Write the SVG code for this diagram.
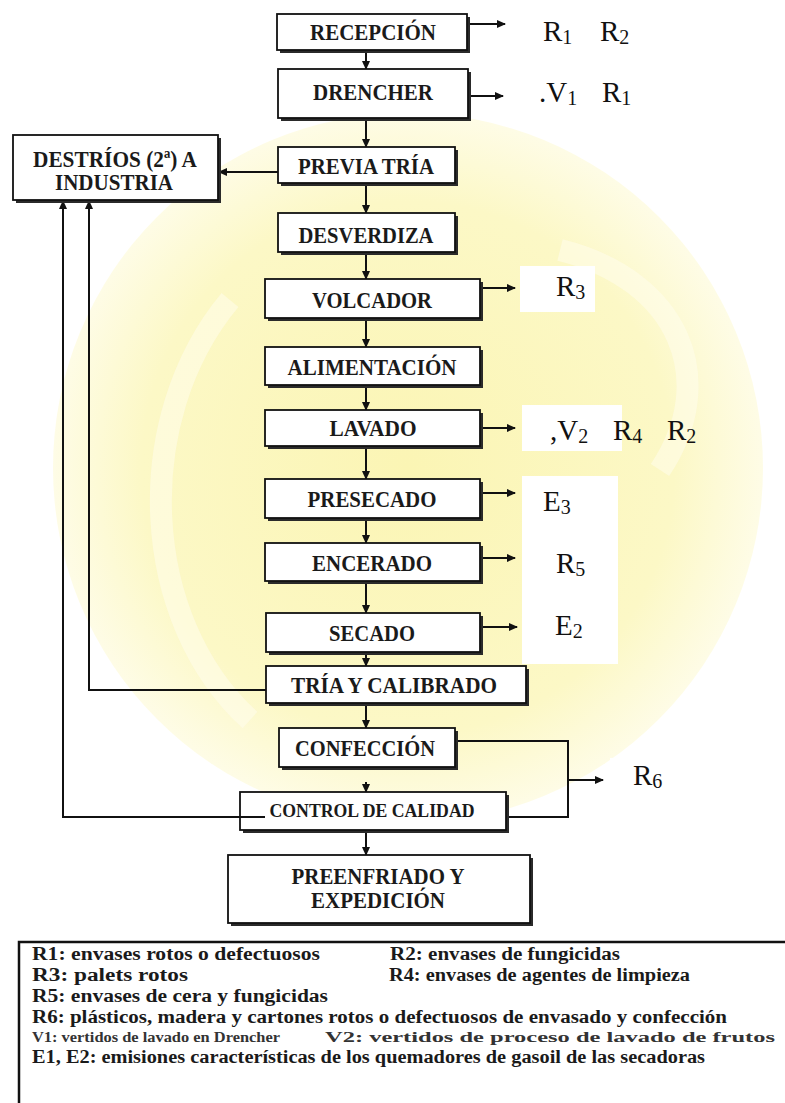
<svg xmlns="http://www.w3.org/2000/svg" width="785" height="1103" viewBox="0 0 785 1103">
<defs>
<radialGradient id="wm" cx="0.5" cy="0.5" r="0.5">
<stop offset="0" stop-color="#fbf5b4"/>
<stop offset="0.75" stop-color="#fcf8c6"/>
<stop offset="1" stop-color="#fefce6"/>
</radialGradient>
<marker id="ah" markerWidth="9" markerHeight="8" refX="8" refY="4" orient="auto" markerUnits="userSpaceOnUse">
<path d="M0,0 L9,4 L0,8 z" fill="#111"/>
</marker>
<style>
.sh{fill:#2a2a2a}
.bx{fill:#fff;stroke:#111;stroke-width:1.8}
.lb{font-family:"Liberation Serif","Times New Roman",serif;font-weight:bold;font-size:23px;fill:#1a1a1a;text-anchor:middle}
.rl{font-family:"Liberation Serif","Times New Roman",serif;font-size:29px;fill:#111}
.sb{font-size:20px}
.ln{fill:none;stroke:#111;stroke-width:2}
.lg{font-family:"Liberation Serif","Times New Roman",serif;font-weight:bold;font-size:18px;fill:#1a1a1a}
.wh{fill:#fff}
</style>
</defs>
<rect width="785" height="1103" fill="#fff"/>
<g id="watermark">
<circle cx="408" cy="468" r="355" fill="url(#wm)"/>
<path d="M250,720 C140,620 130,420 230,300" fill="none" stroke="#fffef0" stroke-width="22" opacity="0.5"/>
<path d="M560,250 C680,280 720,380 660,470" fill="none" stroke="#fffef0" stroke-width="22" opacity="0.5"/>
</g>
<g id="label-bg">
<rect class="wh" x="520" y="266" width="75" height="46"/>
<rect class="wh" x="522" y="405" width="100" height="46"/>
<rect class="wh" x="522" y="476" width="96" height="188"/>
<rect class="wh" x="610" y="758" width="60" height="40"/>
</g>
<g id="connectors">
<line class="ln" x1="366" y1="50" x2="366" y2="69" marker-end="url(#ah)"/>
<line class="ln" x1="366" y1="118" x2="366" y2="147" marker-end="url(#ah)"/>
<line class="ln" x1="366" y1="183" x2="366" y2="213" marker-end="url(#ah)"/>
<line class="ln" x1="366" y1="252" x2="366" y2="279" marker-end="url(#ah)"/>
<line class="ln" x1="366" y1="318" x2="366" y2="347" marker-end="url(#ah)"/>
<line class="ln" x1="366" y1="385" x2="366" y2="410" marker-end="url(#ah)"/>
<line class="ln" x1="366" y1="446" x2="366" y2="479" marker-end="url(#ah)"/>
<line class="ln" x1="366" y1="518" x2="366" y2="543" marker-end="url(#ah)"/>
<line class="ln" x1="366" y1="581" x2="366" y2="613" marker-end="url(#ah)"/>
<line class="ln" x1="366" y1="652" x2="366" y2="666" marker-end="url(#ah)"/>
<line class="ln" x1="366" y1="703" x2="366" y2="728" marker-end="url(#ah)"/>
<line class="ln" x1="366" y1="782" x2="366" y2="792" marker-end="url(#ah)"/>
<line class="ln" x1="366" y1="830" x2="366" y2="855" marker-end="url(#ah)"/>
<line class="ln" x1="278" y1="172" x2="219" y2="172" marker-end="url(#ah)"/>
<polyline class="ln" points="266,690 89,690 89,201" marker-end="url(#ah)"/>
<polyline class="ln" points="265,817 63,817 63,201" marker-end="url(#ah)"/>
<polyline class="ln" points="455,741 568,741 568,817 507,817"/>
<line class="ln" x1="568" y1="780" x2="603" y2="780" marker-end="url(#ah)"/>
<line class="ln" x1="467" y1="24" x2="505" y2="24" marker-end="url(#ah)"/>
<line class="ln" x1="468" y1="96" x2="503" y2="96" marker-end="url(#ah)"/>
<line class="ln" x1="480" y1="288" x2="515" y2="288" marker-end="url(#ah)"/>
<line class="ln" x1="480" y1="428" x2="515" y2="428" marker-end="url(#ah)"/>
<line class="ln" x1="480" y1="493" x2="515" y2="493" marker-end="url(#ah)"/>
<line class="ln" x1="480" y1="558" x2="515" y2="558" marker-end="url(#ah)"/>
<line class="ln" x1="480" y1="627" x2="517" y2="627" marker-end="url(#ah)"/>
</g>
<g id="recepcion"><rect class="sh" x="280" y="17" width="190" height="36"/><rect class="bx" x="277" y="14" width="190" height="36"/><text class="lb" x="373" y="40" textLength="126" lengthAdjust="spacingAndGlyphs">RECEPCIÓN</text></g>
<g id="drencher"><rect class="sh" x="281" y="72" width="190" height="49"/><rect class="bx" x="278" y="69" width="190" height="49"/><text class="lb" x="373" y="100" textLength="120" lengthAdjust="spacingAndGlyphs">DRENCHER</text></g>
<g id="destrios"><rect class="sh" x="16" y="138" width="205" height="65"/><rect class="bx" x="13" y="135" width="205" height="65"/><text class="lb" x="115" y="167" textLength="164" lengthAdjust="spacingAndGlyphs">DESTRÍOS (2ª) A</text><text class="lb" x="114" y="190" textLength="118" lengthAdjust="spacingAndGlyphs">INDUSTRIA</text></g>
<g id="previa-tria"><rect class="sh" x="281" y="150" width="177" height="36"/><rect class="bx" x="278" y="147" width="177" height="36"/><text class="lb" x="366" y="174" textLength="136" lengthAdjust="spacingAndGlyphs">PREVIA TRÍA</text></g>
<g id="desverdiza"><rect class="sh" x="281" y="216" width="177" height="39"/><rect class="bx" x="278" y="213" width="177" height="39"/><text class="lb" x="366" y="243" textLength="135" lengthAdjust="spacingAndGlyphs">DESVERDIZA</text></g>
<g id="volcador"><rect class="sh" x="268" y="282" width="215" height="39"/><rect class="bx" x="265" y="279" width="215" height="39"/><text class="lb" x="372" y="308" textLength="120" lengthAdjust="spacingAndGlyphs">VOLCADOR</text></g>
<g id="alimentacion"><rect class="sh" x="268" y="350" width="215" height="38"/><rect class="bx" x="265" y="347" width="215" height="38"/><text class="lb" x="372" y="375" textLength="169" lengthAdjust="spacingAndGlyphs">ALIMENTACIÓN</text></g>
<g id="lavado"><rect class="sh" x="268" y="413" width="215" height="36"/><rect class="bx" x="265" y="410" width="215" height="36"/><text class="lb" x="373" y="436" textLength="87" lengthAdjust="spacingAndGlyphs">LAVADO</text></g>
<g id="presecado"><rect class="sh" x="268" y="482" width="215" height="39"/><rect class="bx" x="265" y="479" width="215" height="39"/><text class="lb" x="372" y="507" textLength="129" lengthAdjust="spacingAndGlyphs">PRESECADO</text></g>
<g id="encerado"><rect class="sh" x="268" y="546" width="215" height="38"/><rect class="bx" x="265" y="543" width="215" height="38"/><text class="lb" x="372" y="571" textLength="120" lengthAdjust="spacingAndGlyphs">ENCERADO</text></g>
<g id="secado"><rect class="sh" x="269" y="616" width="214" height="39"/><rect class="bx" x="266" y="613" width="214" height="39"/><text class="lb" x="372" y="641" textLength="86" lengthAdjust="spacingAndGlyphs">SECADO</text></g>
<g id="tria-calibrado"><rect class="sh" x="269" y="669" width="260" height="37"/><rect class="bx" x="266" y="666" width="260" height="37"/><text class="lb" x="394" y="693" textLength="206" lengthAdjust="spacingAndGlyphs">TRÍA Y CALIBRADO</text></g>
<g id="confeccion"><rect class="sh" x="282" y="731" width="176" height="39"/><rect class="bx" x="279" y="728" width="176" height="39"/><text class="lb" x="365" y="756" textLength="140" lengthAdjust="spacingAndGlyphs">CONFECCIÓN</text></g>
<g id="control-calidad"><rect class="sh" x="243" y="795" width="266" height="38"/><rect class="bx" x="240" y="792" width="266" height="38"/><line class="ln" x1="240" y1="817" x2="265" y2="817"/><text class="lb" x="372" y="817" style="font-size:18px" textLength="205" lengthAdjust="spacingAndGlyphs">CONTROL DE CALIDAD</text></g>
<g id="preenfriado"><rect class="sh" x="231" y="858" width="302" height="68"/><rect class="bx" x="228" y="855" width="302" height="68"/><text class="lb" x="378" y="884" textLength="173" lengthAdjust="spacingAndGlyphs">PREENFRIADO Y</text><text class="lb" x="378" y="908" textLength="134" lengthAdjust="spacingAndGlyphs">EXPEDICIÓN</text></g>
<g id="outputs">
<text class="rl" x="543" y="41">R<tspan class="sb" dy="3">1</tspan></text>
<text class="rl" x="600" y="41">R<tspan class="sb" dy="3">2</tspan></text>
<text class="rl" x="539" y="102">.V<tspan class="sb" dy="3">1</tspan></text>
<text class="rl" x="602" y="102">R<tspan class="sb" dy="3">1</tspan></text>
<text class="rl" x="556" y="296">R<tspan class="sb" dy="3">3</tspan></text>
<text class="rl" x="550" y="440">,V<tspan class="sb" dy="3">2</tspan></text>
<text class="rl" x="613" y="440">R<tspan class="sb" dy="3">4</tspan></text>
<text class="rl" x="667" y="440">R<tspan class="sb" dy="3">2</tspan></text>
<text class="rl" x="543" y="511">E<tspan class="sb" dy="3">3</tspan></text>
<text class="rl" x="556" y="573">R<tspan class="sb" dy="3">5</tspan></text>
<text class="rl" x="555" y="635">E<tspan class="sb" dy="3">2</tspan></text>
<text class="rl" x="633" y="785">R<tspan class="sb" dy="3">6</tspan></text>
</g>
<g id="legend">
<rect x="19" y="942" width="800" height="175" fill="#fff" stroke="#111" stroke-width="2.5"/>
<text class="lg" x="32" y="960" textLength="288" lengthAdjust="spacingAndGlyphs">R1:  envases rotos o defectuosos</text>
<text class="lg" x="390" y="960" textLength="230" lengthAdjust="spacingAndGlyphs">R2: envases de fungicidas</text>
<text class="lg" x="32" y="981" textLength="156" lengthAdjust="spacingAndGlyphs">R3:  palets rotos</text>
<text class="lg" x="389" y="981" textLength="301" lengthAdjust="spacingAndGlyphs">R4: envases de agentes de limpieza</text>
<text class="lg" x="32" y="1002" textLength="296" lengthAdjust="spacingAndGlyphs">R5:  envases de cera y fungicidas</text>
<text class="lg" x="32" y="1023" textLength="695" lengthAdjust="spacingAndGlyphs">R6: plásticos, madera y cartones rotos o defectuosos de envasado y confección</text>
<text class="lg" x="32" y="1042" style="font-size:15px;fill:#333" textLength="248" lengthAdjust="spacingAndGlyphs">V1: vertidos de lavado en Drencher</text>
<text class="lg" x="325" y="1042" style="font-size:15px;fill:#333" textLength="450" lengthAdjust="spacingAndGlyphs">V2: vertidos de proceso de lavado de frutos</text>
<text class="lg" x="32" y="1063" textLength="673" lengthAdjust="spacingAndGlyphs">E1, E2: emisiones características de los quemadores de gasoil de las secadoras</text>
</g>
</svg>
